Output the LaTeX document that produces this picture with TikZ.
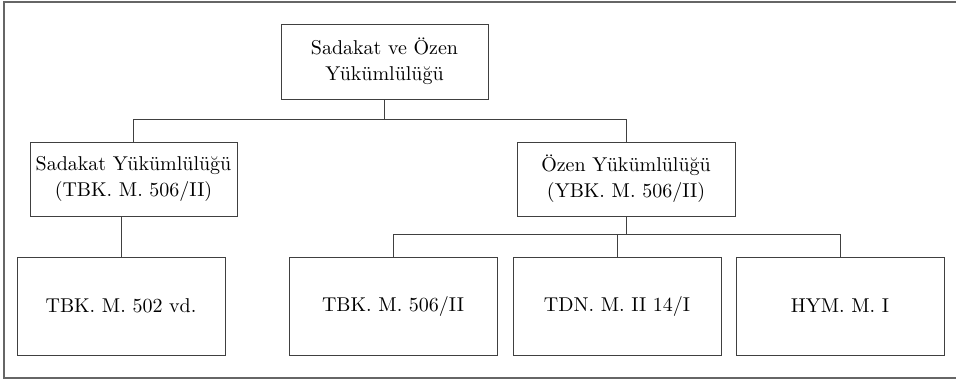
\documentclass[tikz,border=0pt]{standalone}
\usepackage{fontspec}

\begin{document}
\begin{tikzpicture}[x=0.5pt, y=-0.5pt,
    box/.style={draw=black!75, line width=0.5pt, align=center, inner sep=0pt,
      font=\normalsize\linespread{1.08}\selectfont},
    link/.style={draw=black!75, line width=0.5pt}]
      \useasboundingbox (0,0) rectangle (956,380);
      \draw[black!60, line width=0.6pt] (4,2) rectangle (960,378);
      % boxes
      \node[box, minimum width=103.5pt, minimum height=37.5pt] (ust) at (384.5,61.5)
        {Sadakat ve Özen\\Yükümlülüğü};
      \node[box, minimum width=103.5pt, minimum height=37pt] (sadakat) at (133.5,179)
        {Sadakat Yükümlülüğü\\(TBK. M. 506/II)};
      \node[box, minimum width=109pt, minimum height=37pt] (ozen) at (626,179)
        {Özen Yükümlülüğü\\(YBK. M. 506/II)};
      \node[box, minimum width=104pt, minimum height=49pt] (tbka) at (121,306) {TBK. M. 502 vd.};
      \node[box, minimum width=104pt, minimum height=49pt] (tbkb) at (393,306) {TBK. M. 506/II};
      \node[box, minimum width=104pt, minimum height=49pt] (tdn) at (617,306) {TDN. M. II 14/I};
      \node[box, minimum width=104pt, minimum height=49pt] (hym) at (840,306) {HYM. M. I};
      % lines
      \draw[link] (ust.south) -- ++(0,20) -| (sadakat.north);
      \draw[link] (ust.south) -- ++(0,20) -| (ozen.north);
      \draw[link] (sadakat.south -| tbka.north) -- (tbka.north);
      \draw[link] (ozen.south) -- ++(0,18) -| (tbkb.north);
      \draw[link] (ozen.south) -- ++(0,18) -| (tdn.north);
      \draw[link] (ozen.south) -- ++(0,18) -| (hym.north);
\end{tikzpicture}
\end{document}
